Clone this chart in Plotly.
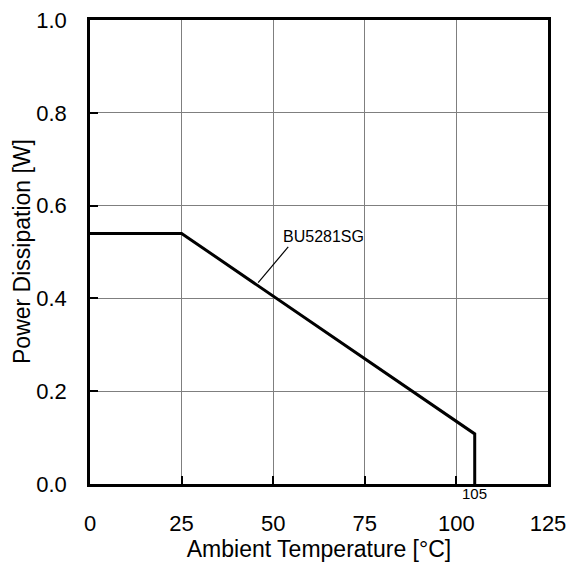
import plotly.graph_objects as go

# derating curve
temp = [0, 25, 105, 105]
power = [0.54, 0.54, 0.108, 0]

# label leader line
leader_x = [45.9, 54.1]
leader_y = [0.434, 0.511]
label_text = "BU5281SG"
label_x = 63.7
label_y = 0.534

x_ticks = [0, 25, 50, 75, 100, 125]
y_ticks = [0.0, 0.2, 0.4, 0.6, 0.8, 1.0]
y_labels = ["0.0", "0.2", "0.4", "0.6", "0.8", "1.0"]

FONT = "Liberation Sans, Arial, sans-serif"

fig = go.Figure()
fig.add_trace(go.Scatter(x=temp, y=power, mode="lines",
                         line=dict(color="black", width=3)))
fig.add_trace(go.Scatter(x=leader_x, y=leader_y, mode="lines",
                         line=dict(color="black", width=1.2)))

fig.add_annotation(x=label_x, y=label_y, text=label_text, showarrow=False,
                   font=dict(family=FONT, size=16, color="black"))
fig.add_annotation(x=105, y=0, yshift=-9, text="105", showarrow=False,
                   font=dict(family=FONT, size=15, color="black"))
# y axis title placed by hand
fig.add_annotation(x=0, y=0.5, xref="paper", yref="paper", xshift=-68,
                   xanchor="center", yanchor="middle",
                   text="Power Dissipation [W]", textangle=-90, showarrow=False,
                   font=dict(family=FONT, size=23, color="black"))

fig.update_layout(
    width=576, height=562,
    margin=dict(l=90, r=28, t=20, b=78, autoexpand=False),
    paper_bgcolor="white", plot_bgcolor="white",
    showlegend=False,
    font=dict(family=FONT, color="black"),
    xaxis=dict(
        range=[0, 125], tickvals=x_ticks, automargin=False,
        ticks="inside", ticklen=8, tickwidth=1.5, tickcolor="black",
        showgrid=True, gridcolor="#7f7f7f", gridwidth=1,
        showline=True, linecolor="black", linewidth=2.5, mirror=True,
        zeroline=False, tickfont=dict(size=22),
        ticklabelstandoff=18,
        title=dict(text="Ambient Temperature [°C]", font=dict(size=23)),
    ),
    yaxis=dict(
        range=[0, 1.0], tickvals=y_ticks, ticktext=y_labels, automargin=False,
        ticks="inside", ticklen=8, tickwidth=1.5, tickcolor="black",
        showgrid=True, gridcolor="#7f7f7f", gridwidth=1,
        showline=True, linecolor="black", linewidth=2.5, mirror=True,
        zeroline=False, tickfont=dict(size=22),
        ticklabelstandoff=16,
    ),
)

fig.write_html("out.html", config={"displayModeBar": False},
               post_script="document.body.style.margin='0';")
